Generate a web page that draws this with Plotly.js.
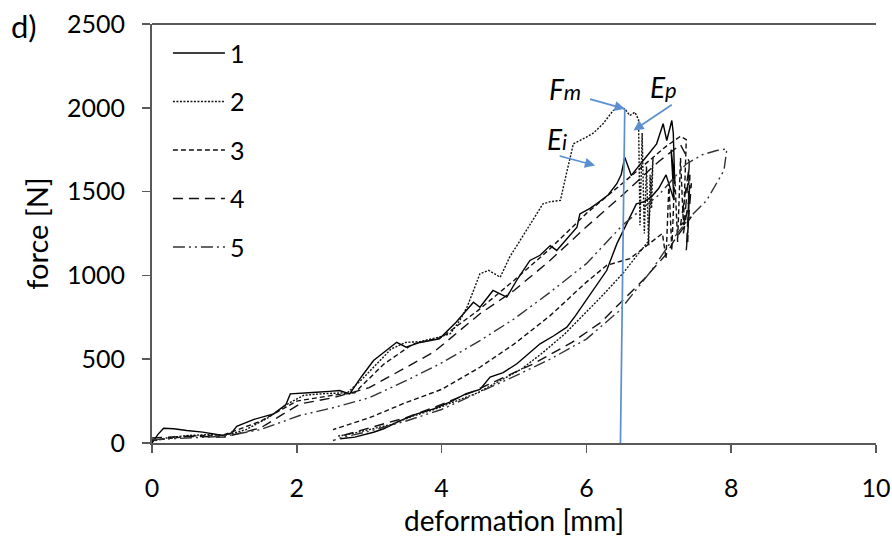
<!DOCTYPE html>
<html>
<head>
<meta charset="utf-8">
<script src="https://cdn.plot.ly/plotly-3.0.1.min.js"></script>
<style>html,body{margin:0;padding:0;background:#fff;}#chart{width:892px;height:541px;}</style>
</head>
<body>
<div id="chart"></div>
<script>
// Series 1 (solid): loading then unloading
const s1x = [0,0.08,0.16,0.3,0.48,0.7,0.98,1.1,1.17,1.4,1.68,1.85,1.91,2.1,2.27,2.45,2.59,2.73,2.9,3.06,3.2,3.38,3.51,3.7,3.97,4.2,4.44,4.53,4.71,4.81,4.9,5.05,5.22,5.36,5.5,5.59,5.75,5.87,5.91,6.05,6.14,6.3,6.42,6.48,6.53,6.58,6.62,6.7,6.78,6.85,6.97,7.02,7.06,7.11,7.15,7.18,
  7.2,7.22,7.17,7.21,7.1,7.0,6.9,6.8,6.69,6.55,6.42,6.28,6.14,6.0,5.85,5.73,5.55,5.36,5.2,5.04,4.85,4.67,4.53,4.34,4.12,3.89,3.66,3.43,3.2,3.06,2.8,2.64,2.6];
const s1y = [0,50,88,85,75,65,45,60,100,140,174,230,293,300,303,308,313,293,400,492,540,601,572,600,622,720,840,810,910,890,870,980,1089,1120,1178,1149,1230,1288,1367,1400,1427,1480,1547,1600,1705,1640,1596,1640,1686,1720,1785,1850,1905,1805,1870,1924,
  1850,1550,1750,1450,1600,1520,1470,1440,1427,1300,1188,1029,940,850,760,691,640,592,530,473,420,393,320,294,245,204,174,134,85,64,35,25,25];

// Series 2 (dotted)
const s2x = [0,0.2,0.5,0.8,1.0,1.3,1.6,1.9,2.1,2.4,2.7,2.9,3.1,3.3,3.5,3.7,3.95,4.12,4.25,4.35,4.45,4.53,4.65,4.81,4.94,5.1,5.27,5.4,5.5,5.64,5.72,5.82,6.0,6.1,6.23,6.37,6.45,6.53,6.6,6.67,6.72,
  6.74,6.77,6.8,6.83,6.86,6.88,6.9,6.92,6.85,6.7,6.5,6.2,6.0,5.7,5.4,5.1,4.8,4.5,4.2,3.9,3.6,3.3,3.0,2.7,2.55];
const s2y = [10,30,45,50,45,80,150,240,285,295,300,380,470,560,600,605,630,652,730,810,920,1010,1030,989,1109,1220,1330,1427,1440,1447,1600,1785,1825,1850,1905,1984,2000,1994,1954,1974,1930,
  1300,1850,1250,1650,1180,1600,1400,1700,1200,1120,1010,870,780,650,540,440,370,300,250,200,160,110,80,50,40];

// Series 3 (short dash)
const s3x = [0,0.5,1.0,1.5,2.0,2.5,2.8,3.2,3.6,4.0,4.5,5.0,5.5,6.0,6.5,6.9,7.1,7.3,7.38,
  7.34,7.3,7.26,7.22,7.18,7.14,7.1,7.05,6.9,6.6,6.28,6.0,5.5,5.0,4.53,4.0,3.5,3.0,2.5];
const s3y = [15,40,50,130,250,285,300,470,590,630,790,970,1160,1370,1550,1700,1770,1830,1810,
  1300,1700,1200,1600,1150,1550,1100,1250,1200,1100,1060,960,760,590,452,320,240,150,80];

// Series 4 (long dash)
const s4x = [0,0.5,1.0,1.5,2.04,2.5,3.0,3.5,3.89,4.53,5.0,5.5,6.0,6.5,7.0,7.3,7.42,
  7.4,7.43,7.38,7.45,7.34,7.42,7.3,7.45,7.2,7.11,6.8,6.5,6.2,5.8,5.27,4.8,4.4,4.0,3.5,3.0,2.6];
const s4y = [30,40,35,90,233,270,330,450,542,771,910,1090,1290,1480,1680,1780,1680,
  1200,1600,1150,1550,1250,1650,1300,1350,1200,1129,980,850,720,600,473,380,300,230,150,90,40];

// Series 5 (dash-dot-dot)
const s5x = [0,0.5,1.0,1.5,2.04,2.5,3.0,3.5,3.98,4.53,5.0,5.5,6.0,6.5,7.0,7.38,7.6,7.8,7.94,
  7.9,7.66,7.43,7.2,6.9,6.46,6.0,5.5,5.08,4.5,4.0,3.5,3.0,2.6,2.5];
const s5y = [20,30,40,80,164,210,270,370,473,611,740,900,1070,1300,1480,1665,1720,1745,1755,
  1626,1447,1347,1220,1030,791,620,500,413,300,200,130,70,30,15];

const seriesNames = ['1','2','3','4','5'];

// Blue marker line and labels
const markX = [6.47, 6.53];
const markY = [0, 1995];
const labelMain = ['F', 'E', 'E'];
const labelSub = ['m', 'p', 'i'];
const labelX = [5.7, 7.07, 5.6];
const labelY = [2113, 2123, 1815];
const arrowHeadX = [6.53, 6.65, 6.12];
const arrowHeadY = [1994, 1865, 1656];
const arrowTailX = [6.03, 7.2, 5.61];
const arrowTailY = [2054, 2024, 1715];

const xTicks = [0,2,4,6,8,10];
const yTicks = [0,500,1000,1500,2000,2500];

const FONT = 'Lato, "Open Sans", sans-serif';
const dashes = ['solid','2px,1.5px','5px,3px','10px,6px','12px,4px,2px,4px,2px,4px'];
const colors = ['#000','#111','#111','#111','#333'];
const xs = [s1x,s2x,s3x,s4x,s5x];
const ys = [s1y,s2y,s3y,s4y,s5y];

const traces = xs.map((x,i)=>({
  x: x, y: ys[i], type:'scatter', mode:'lines', name: seriesNames[i],
  legendgroup: 'g'+i,
  line:{color:colors[i], width:1.4, dash:dashes[i]}
}));
traces.push({x:markX, y:markY, type:'scatter', mode:'lines', showlegend:false,
  line:{color:'#5B8FD0', width:1.7}, hoverinfo:'skip'});

const annotations = labelMain.map((t,i)=>({
  x:labelX[i], y:labelY[i], xref:'x', yref:'y',
  text:'<i>'+t+'<span style="font-size:22px">'+labelSub[i]+'</span></i>',
  showarrow:false, font:{family:FONT, size:28, color:'#000'}
}));
for (let i=0;i<3;i++){
  annotations.push({x:arrowHeadX[i], y:arrowHeadY[i], ax:arrowTailX[i], ay:arrowTailY[i],
    xref:'x', yref:'y', axref:'x', ayref:'y', text:'', showarrow:true,
    arrowhead:2, arrowsize:1.2, arrowwidth:1.7, arrowcolor:'#5B8FD0'});
}
annotations.push({x:-0.197, y:0.996, xref:'paper', yref:'paper', text:'d)', showarrow:false,
  xanchor:'left', yanchor:'middle', font:{family:FONT, size:31, color:'#000'}});

const layout = {
  width:892, height:541,
  margin:{l:152, r:16, t:24, b:98},
  paper_bgcolor:'#fff', plot_bgcolor:'#fff',
  font:{family:FONT, size:24, color:'#000'},
  showlegend:true,
  legend:{x:0.022, y:0.985, xanchor:'left', yanchor:'top', bgcolor:'rgba(0,0,0,0)',
    font:{family:FONT, size:25, color:'#000'}, tracegroupgap:13, itemwidth:52},
  xaxis:{range:[0,10], tickvals:xTicks, ticktext:xTicks.map(String), ticks:'outside', ticklen:8,
    tickcolor:'#595959', tickwidth:1.5, showline:true, linecolor:'#595959', linewidth:2,
    showgrid:false, zeroline:false, ticklabelstandoff:14,
    tickfont:{family:FONT, size:25, color:'#000'},
    title:{text:'deformation [mm]', font:{family:FONT, size:28, color:'#000'}, standoff:10}},
  yaxis:{range:[0,2500], tickvals:yTicks, ticktext:yTicks.map(String), ticks:'outside', ticklen:8,
    tickcolor:'#595959', tickwidth:1.5, showline:true, linecolor:'#595959', linewidth:2,
    showgrid:false, zeroline:false, ticklabelstandoff:12,
    tickfont:{family:FONT, size:25, color:'#000'},
    title:{text:'force [N]', font:{family:FONT, size:29, color:'#000'}, standoff:10}},
  shapes:[{type:'line', xref:'paper', yref:'paper', x0:0, x1:1, y0:1, y1:1,
    line:{color:'#595959', width:2}}],
  annotations: annotations
};
Plotly.newPlot('chart', traces, layout, {displayModeBar:false, staticPlot:true});
</script>
</body>
</html>
